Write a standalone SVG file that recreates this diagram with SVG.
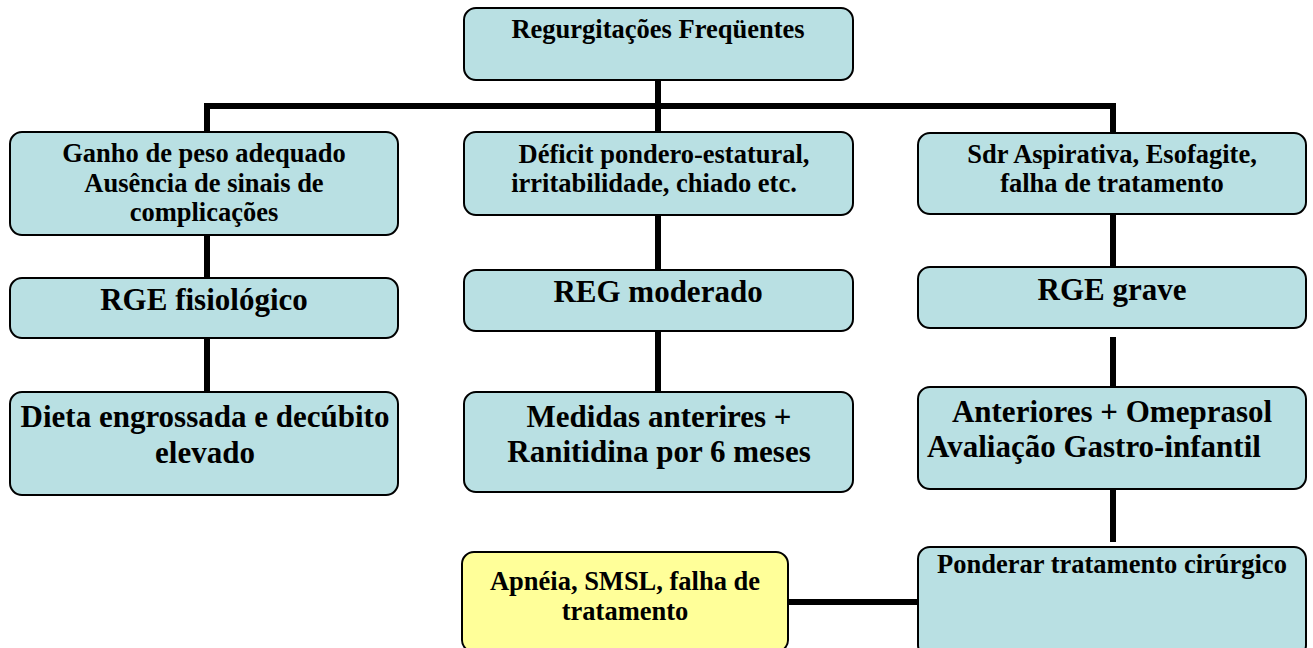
<svg xmlns="http://www.w3.org/2000/svg" width="1313" height="648" viewBox="0 0 1313 648">
<style>
.b{fill:#b9e0e3;stroke:#000;stroke-width:2}
.y{fill:#ffff99;stroke:#000;stroke-width:2}
.c{stroke:#000;stroke-width:6;fill:none}
text{font-family:"Liberation Serif","Times New Roman",serif;font-weight:bold;fill:#000;text-anchor:middle}
.s{font-size:26.5px}
.l{font-size:31px}
</style>
<rect width="1313" height="648" fill="#fff"/>
<g id="connectors">
<path class="c" d="M658 80V132M204 106H1116M207 106V132M1113 106V132"/>
<path class="c" d="M207 235V278M658 215V270M1113 214V267"/>
<path class="c" d="M207 338V392M658 331V392M1113 337V387"/>
<path class="c" d="M1113 490V542M788 602H922"/>
</g>
<g id="n0"><rect class="b" x="464" y="8" width="389" height="72" rx="12"/><text class="s" x="658" y="38">Regurgitações Freqüentes</text></g>
<g id="n1"><rect class="b" x="10" y="132" width="388" height="103" rx="12"/><text class="s" x="204" y="162">Ganho de peso adequado</text><text class="s" x="204" y="192">Ausência de sinais de</text><text class="s" x="204" y="221">complicações</text></g>
<g id="n2"><rect class="b" x="464" y="132" width="389" height="83" rx="12"/><text class="s" x="664" y="163">Déficit pondero-estatural,</text><text class="s" x="654" y="192">irritabilidade, chiado etc.</text></g>
<g id="n3"><rect class="b" x="918" y="133" width="388" height="81" rx="12"/><text class="s" x="1112" y="163">Sdr Aspirativa, Esofagite,</text><text class="s" x="1112" y="192">falha de tratamento</text></g>
<g id="n4"><rect class="b" x="10" y="278" width="388" height="60" rx="12"/><text class="l" x="204" y="310">RGE fisiológico</text></g>
<g id="n5"><rect class="b" x="464" y="270" width="389" height="61" rx="12"/><text class="l" x="658" y="302">REG moderado</text></g>
<g id="n6"><rect class="b" x="918" y="267" width="388" height="61" rx="12"/><text class="l" x="1112" y="300">RGE grave</text></g>
<g id="n7"><rect class="b" x="10" y="392" width="388" height="103" rx="12"/><text class="l" x="205" y="427">Dieta engrossada e decúbito</text><text class="l" x="205" y="463">elevado</text></g>
<g id="n8"><rect class="b" x="464" y="392" width="389" height="100" rx="12"/><text class="l" x="659" y="427">Medidas anterires +</text><text class="l" x="659" y="462">Ranitidina por 6 meses</text></g>
<g id="n9"><rect class="b" x="918" y="387" width="388" height="102" rx="12"/><text class="l" x="1112" y="422">Anteriores + Omeprasol</text><text class="l" x="1094" y="457">Avaliação Gastro-infantil</text></g>
<g id="n10"><rect class="b" x="918" y="547" width="388" height="110" rx="12"/><text class="s" x="1112" y="573">Ponderar tratamento cirúrgico</text></g>
<g id="n11"><rect class="y" x="462" y="552" width="326" height="100" rx="12"/><text class="s" x="625" y="590">Apnéia, SMSL, falha de</text><text class="s" x="625" y="620">tratamento</text></g>
</svg>
